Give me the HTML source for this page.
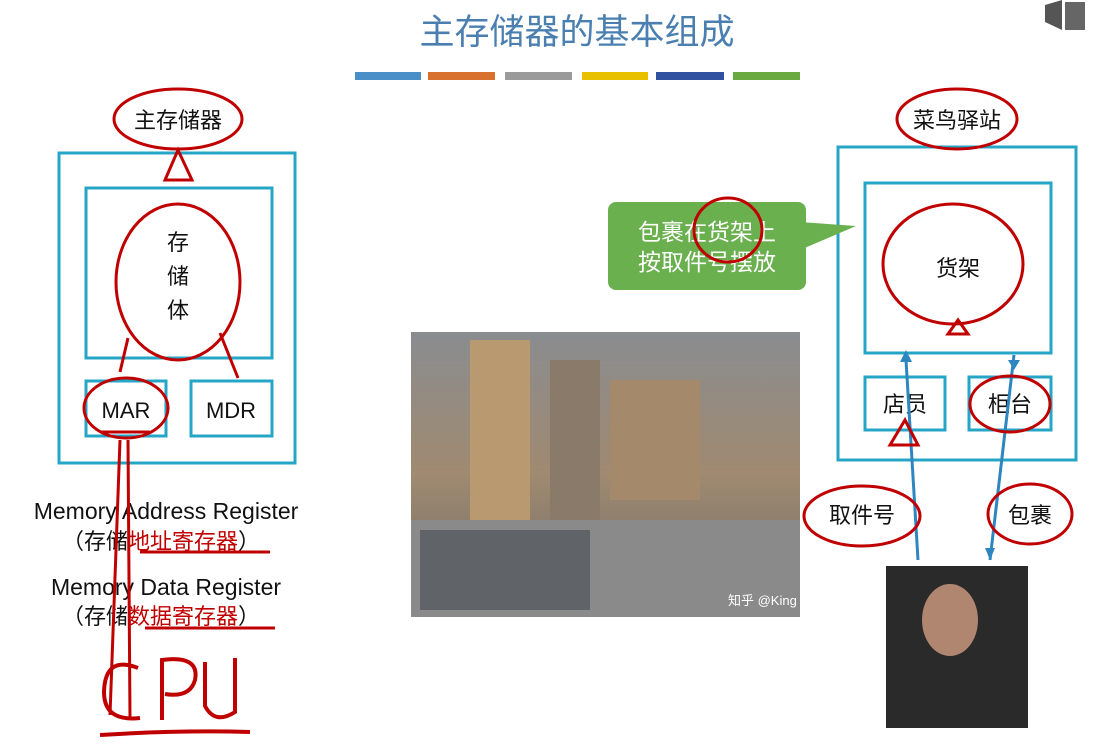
<!DOCTYPE html>
<html><head><meta charset="utf-8"><style>
body{margin:0;width:1104px;height:742px;background:#fff;overflow:hidden}
svg text{font-family:"Liberation Sans","Noto Sans CJK SC",sans-serif}
</style></head><body>
<svg width="1104" height="742" viewBox="0 0 1104 742" xmlns="http://www.w3.org/2000/svg">
<text x="577" y="44" font-size="35" fill="#4a7fb0" text-anchor="middle">主存储器的基本组成</text>
<rect x="355" y="72" width="66" height="8" fill="#4a8fc8"/>
<rect x="428" y="72" width="67" height="8" fill="#d8702e"/>
<rect x="505" y="72" width="67" height="8" fill="#9a9a9a"/>
<rect x="582" y="72" width="66" height="8" fill="#e8c000"/>
<rect x="656" y="72" width="68" height="8" fill="#3050a0"/>
<rect x="733" y="72" width="67" height="8" fill="#6aa840"/>
<path d="M1045 5 L1062 0 L1062 30 L1045 22Z" fill="#555"/><rect x="1065" y="2" width="20" height="28" fill="#666"/>
<g fill="none" stroke="#25a6c6" stroke-width="3">
<rect x="59" y="153" width="236" height="310"/>
<rect x="86" y="188" width="186" height="170"/>
<rect x="86" y="381" width="80" height="55"/>
<rect x="191" y="381" width="81" height="55"/>
<rect x="838" y="147" width="238" height="313"/>
<rect x="865" y="183" width="186" height="170"/>
<rect x="865" y="377" width="80" height="53"/>
<rect x="969" y="377" width="82" height="53"/>
</g>
<g font-size="22" fill="#111" text-anchor="middle">
<text x="178" y="128">主存储器</text>
<text x="178" y="250">存</text><text x="178" y="284">储</text><text x="178" y="318">体</text>
<text x="126" y="418">MAR</text><text x="231" y="418">MDR</text>
<text x="957" y="128">菜鸟驿站</text>
<text x="958" y="276">货架</text>
<text x="905" y="412">店员</text><text x="1010" y="412">柜台</text>
<text x="862" y="523">取件号</text><text x="1030" y="523">包裹</text>
</g>
<g font-size="23" fill="#111" text-anchor="middle">
<text x="166" y="519">Memory Address Register</text>
<text x="166" y="595">Memory Data Register</text>
</g>
<g font-size="22" text-anchor="start">
<text x="62" y="549" fill="#111">（存储<tspan fill="#c00000">地址寄存器</tspan>）</text>
<text x="62" y="624" fill="#111">（存储<tspan fill="#c00000">数据寄存器</tspan>）</text>
</g>
<rect x="608" y="202" width="198" height="88" rx="8" fill="#6ab04f"/>
<path d="M800 222 L856 226 L800 250Z" fill="#6ab04f"/>
<text x="707" y="240" font-size="23" fill="#fff" text-anchor="middle">包裹在货架上</text>
<text x="707" y="270" font-size="23" fill="#fff" text-anchor="middle">按取件号摆放</text>
<defs><linearGradient id="w" x1="0" y1="0" x2="0" y2="1"><stop offset="0" stop-color="#8a8c90"/><stop offset=".5" stop-color="#a08a70"/><stop offset="1" stop-color="#6a6a6a"/></linearGradient></defs>
<rect x="411" y="332" width="389" height="285" fill="url(#w)"/>
<rect x="470" y="340" width="60" height="200" fill="#b99a70"/>
<rect x="550" y="360" width="50" height="170" fill="#8a7a6a"/>
<rect x="610" y="380" width="90" height="120" fill="#a48a6a"/>
<rect x="411" y="520" width="389" height="97" fill="#8a8a8a"/>
<rect x="420" y="530" width="170" height="80" fill="#606468"/>
<rect x="886" y="566" width="142" height="162" fill="#2a2a2a"/>
<ellipse cx="950" cy="620" rx="28" ry="36" fill="#b08670"/>
<g fill="none" stroke="#2e86c0" stroke-width="3">
<path d="M918 560 L906 360"/><path d="M990 560 L1014 355"/>
</g>
<path d="M906 350 l-6 12 h12z M1014 370 l-6 -10 h12z M990 560 l-5 -12 h10z" fill="#2e86c0"/>
<g fill="none" stroke="#c00000" stroke-width="3">
<ellipse cx="178" cy="119" rx="64" ry="30"/>
<path d="M165 180 L178 150 L192 180Z"/>
<ellipse cx="178" cy="282" rx="62" ry="78"/>
<path d="M120 372 L128 338 M220 333 L238 378"/>
<ellipse cx="126" cy="408" rx="42" ry="30"/>
<path d="M100 432 h50"/>
<path d="M110 715 L120 440 M130 718 L128 440"/>
<path d="M140 552 h130 M145 628 h130"/>
<ellipse cx="957" cy="119" rx="60" ry="30"/>
<ellipse cx="728" cy="230" rx="34" ry="32"/>
<ellipse cx="953" cy="264" rx="70" ry="60"/>
<path d="M948 334 L958 320 L968 334Z"/>
<path d="M890 445 L905 420 L918 445Z"/>
<ellipse cx="1010" cy="404" rx="40" ry="28"/>
<ellipse cx="862" cy="516" rx="58" ry="30"/>
<ellipse cx="1030" cy="514" rx="42" ry="30"/>
</g>
<g fill="none" stroke="#c00000" stroke-width="4">
<path d="M138 668 Q105 655 104 692 Q104 722 140 718"/>
<path d="M162 720 V660 Q200 655 195 680 Q190 698 165 694"/>
<path d="M205 662 V706 Q215 725 235 712 V658"/>
<path d="M100 735 Q180 730 250 732"/>
</g>
<text x="728" y="605" font-size="13" fill="#fff">知乎 @King</text>
</svg>
</body></html>
